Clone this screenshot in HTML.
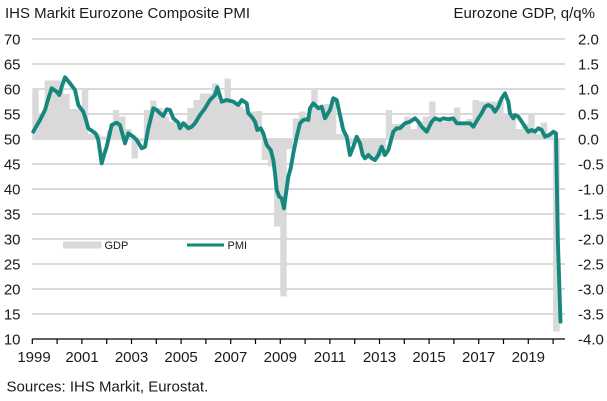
<!DOCTYPE html>
<html>
<head>
<meta charset="utf-8">
<style>
  html, body { margin: 0; padding: 0; background: #ffffff; }
  body { width: 607px; height: 401px; overflow: hidden; }
  svg { display: block; }
  text { font-family: "Liberation Sans", Arial, sans-serif; fill: #1a1a1a; }
</style>
</head>
<body>
<svg width="607" height="401" viewBox="0 0 607 401" xmlns="http://www.w3.org/2000/svg">
<rect x="0" y="0" width="607" height="401" fill="#ffffff"/>
<text x="5" y="18" font-size="15">IHS Markit Eurozone Composite PMI</text>
<text x="595" y="18" font-size="15" text-anchor="end">Eurozone GDP, q/q%</text>
<path stroke="#dadada" stroke-width="2" fill="none" d="M32.3 39H565M32.3 64H565M32.3 89H565M32.3 114H565M32.3 139H565M32.3 164H565M32.3 189H565M32.3 214H565M32.3 239H565M32.3 264H565M32.3 289H565M32.3 314H565"/>
<path fill="#d9d9d9" d="M32.3 139V89h6.4V139ZM38.5 139V114h6.4V139ZM44.7 139V80.5h6.4V139ZM50.9 139V80.5h6.4V139ZM57.1 139V80.5h6.4V139ZM63.3 139V94h6.4V139ZM69.5 139V109h6.4V139ZM75.7 139V109h6.4V139ZM81.9 139V89h6.4V139ZM88.1 139V134h6.4V139ZM94.3 139V134h6.4V139ZM100.5 139V136.5h6.4V139ZM106.7 139V131h6.4V139ZM112.9 139V110h6.4V139ZM119.1 139V116.5h6.4V139ZM125.3 139V129h6.4V139ZM131.5 139V158.5h6.4V139ZM137.7 139V141.5h6.4V139ZM143.9 139V110h6.4V139ZM150.1 139V100.5h6.4V139ZM156.3 139V108h6.4V139ZM162.5 139V116.5h6.4V139ZM168.7 139V121.5h6.4V139ZM174.9 139V124h6.4V139ZM181.1 139V121.5h6.4V139ZM187.3 139V108h6.4V139ZM193.5 139V100h6.4V139ZM199.7 139V93.5h6.4V139ZM205.9 139V93.5h6.4V139ZM212.1 139V83.5h6.4V139ZM218.3 139V101.5h6.4V139ZM224.5 139V78.5h6.4V139ZM230.7 139V104h6.4V139ZM236.9 139V106.5h6.4V139ZM243.1 139V109h6.4V139ZM249.3 139V111.5h6.4V139ZM255.5 139V111h6.4V139ZM261.7 139V160h6.4V139ZM267.9 139V166.5h6.4V139ZM274.1 139V226.5h6.4V139ZM280.3 139V296.5h6.4V139ZM286.5 139V149h6.4V139ZM292.7 139V118.5h6.4V139ZM298.9 139V111.5h6.4V139ZM305.1 139V116.5h6.4V139ZM311.3 139V89h6.4V139ZM317.5 139V109h6.4V139ZM323.7 139V104h6.4V139ZM329.9 139V100h6.4V139ZM336.1 139V134h6.4V139ZM342.3 139V134h6.4V139ZM348.5 139V144h6.4V139ZM354.7 139V142h6.4V139ZM360.9 139V154h6.4V139ZM367.1 139V157h6.4V139ZM373.3 139V159h6.4V139ZM379.5 139V156.5h6.4V139ZM385.7 139V110h6.4V139ZM391.9 139V124h6.4V139ZM398.1 139V124h6.4V139ZM404.3 139V116.5h6.4V139ZM410.5 139V129h6.4V139ZM416.7 139V121.5h6.4V139ZM422.9 139V116.5h6.4V139ZM429.1 139V101.5h6.4V139ZM435.3 139V119h6.4V139ZM441.5 139V121.5h6.4V139ZM447.7 139V116.5h6.4V139ZM453.9 139V107.5h6.4V139ZM460.1 139V121.5h6.4V139ZM466.3 139V119h6.4V139ZM472.5 139V100h6.4V139ZM478.7 139V101.5h6.4V139ZM484.9 139V101.5h6.4V139ZM491.1 139V101.5h6.4V139ZM497.3 139V100h6.4V139ZM503.5 139V114h6.4V139ZM509.7 139V116.5h6.4V139ZM515.9 139V129h6.4V139ZM522.1 139V124h6.4V139ZM528.3 139V115h6.4V139ZM534.5 139V134h6.4V139ZM540.7 139V122.5h6.4V139ZM546.9 139V134h6.4V139ZM553.1 139V331.5h6.6V139Z"/>
<polyline fill="none" stroke="#16877d" stroke-width="3.9" stroke-linejoin="round" stroke-linecap="round" points="33.3,131.7 36.5,126 40,120 45,110 48.5,98 51.7,88.3 56.7,91.7 59.3,95 62,86 65,77.3 70,83.3 75,90 78.3,105 80.5,108 83.3,111.7 86,120 88.3,128.3 93.3,131.7 96,134 98.3,140 101.7,163.3 104,155 106.7,146.7 111.7,125 116.7,122.7 120,125 125,143.3 128.3,133.3 133.3,136.7 136.7,140 141.7,148.3 145,146.7 148.3,128.3 153.3,108.3 156.7,110 160,113.3 163.3,116 166.7,109.3 170,110 173.3,118.3 178.3,122.7 180,128.3 183.3,123.3 188.3,128.3 191.7,126.7 195,123.3 200,115 205,108.3 210,100 215,95 217.3,87.3 221.7,101.7 226.7,100 233.3,101.7 238.3,105 241.7,100 246.7,103.3 248.3,113.3 251.7,116.7 255,121.7 257.3,130 260.7,128.3 263.3,133.3 266.7,145 270.7,150 273.3,160 275,173.3 276.7,190 279.3,196.7 281.7,198.3 284,208.3 286,193.3 288.3,176.7 290.7,168.3 293.3,153.3 296.7,136.7 300,123.3 303.3,120 306.7,119.3 308.3,120 310,108.3 313.3,103.3 318.3,108.3 321.7,106.7 325,118.3 330,110 333.3,98.3 336.7,100 340,115 343.3,130 346.7,136.7 350,155 353.3,146.7 356.7,136.7 360,143.3 362.7,155 365,158.3 368.3,155 371.7,158.3 375,160 378.3,155 381.7,146.7 385,155 388.3,150 393.3,131.7 396.7,128.3 400,128.3 405,123.3 410,121.7 415,118.3 418.3,121.7 421.7,126.7 426.7,131.7 431.7,121.7 435,118.3 440,120 443.3,118.3 448.3,119.3 453.3,118.3 456.7,123.3 463.3,123.3 470,123.3 473.3,126.7 478.3,118.3 481.7,113.3 485,106.7 488.3,105 491.7,106.7 495,111.7 498.3,106.7 501.7,98.3 505,93.3 508.3,101.7 510,113.3 513.3,118.3 515,115 518.3,116.7 521.7,121.7 525,126.7 528.3,131.7 531.7,130 535,131.7 538.3,128.3 541.7,130 545,136.7 549.3,135 553.3,131.7 556,133.3 557.8,239 560.5,321.7"/>
<path stroke="#000" stroke-width="1.2" fill="none" d="M32.3 339H565M32.3 339v5M57.1 339v5M81.9 339v5M106.7 339v5M131.5 339v5M156.3 339v5M181.1 339v5M205.9 339v5M230.7 339v5M255.5 339v5M280.3 339v5M305.1 339v5M329.9 339v5M354.7 339v5M379.5 339v5M404.3 339v5M429.1 339v5M453.9 339v5M478.7 339v5M503.5 339v5M528.3 339v5M553.1 339v5"/>
<g font-size="15" text-anchor="middle">
<text x="34" y="362">1999</text><text x="82" y="362">2001</text><text x="131.5" y="362">2003</text><text x="181.1" y="362">2005</text><text x="230.7" y="362">2007</text><text x="280.3" y="362">2009</text><text x="329.9" y="362">2011</text><text x="379.5" y="362">2013</text><text x="429.1" y="362">2015</text><text x="478.7" y="362">2017</text><text x="528.3" y="362">2019</text>
</g>
<g font-size="15" text-anchor="end">
<text x="20.5" y="44.5">70</text><text x="20.5" y="69.5">65</text><text x="20.5" y="94.5">60</text><text x="20.5" y="119.5">55</text><text x="20.5" y="144.5">50</text><text x="20.5" y="169.5">45</text><text x="20.5" y="194.5">40</text><text x="20.5" y="219.5">35</text><text x="20.5" y="244.5">30</text><text x="20.5" y="269.5">25</text><text x="20.5" y="294.5">20</text><text x="20.5" y="319.5">15</text><text x="20.5" y="344.5">10</text>
</g>
<g font-size="15" text-anchor="start">
<text x="578" y="44.5">2.0</text><text x="578" y="69.5">1.5</text><text x="578" y="94.5">1.0</text><text x="578" y="119.5">0.5</text><text x="578" y="144.5">0.0</text><text x="578" y="169.5">-0.5</text><text x="578" y="194.5">-1.0</text><text x="578" y="219.5">-1.5</text><text x="578" y="244.5">-2.0</text><text x="578" y="269.5">-2.5</text><text x="578" y="294.5">-3.0</text><text x="578" y="319.5">-3.5</text><text x="578" y="344.5">-4.0</text>
</g>
<rect x="63" y="241.5" width="38.5" height="7" fill="#d9d9d9"/>
<text x="104.5" y="249" font-size="11">GDP</text>
<line x1="187" y1="245" x2="224" y2="245" stroke="#16877d" stroke-width="3"/>
<text x="227.5" y="249" font-size="11">PMI</text>
<text x="6.5" y="391.5" font-size="15">Sources: IHS Markit, Eurostat.</text>
</svg>
</body>
</html>
